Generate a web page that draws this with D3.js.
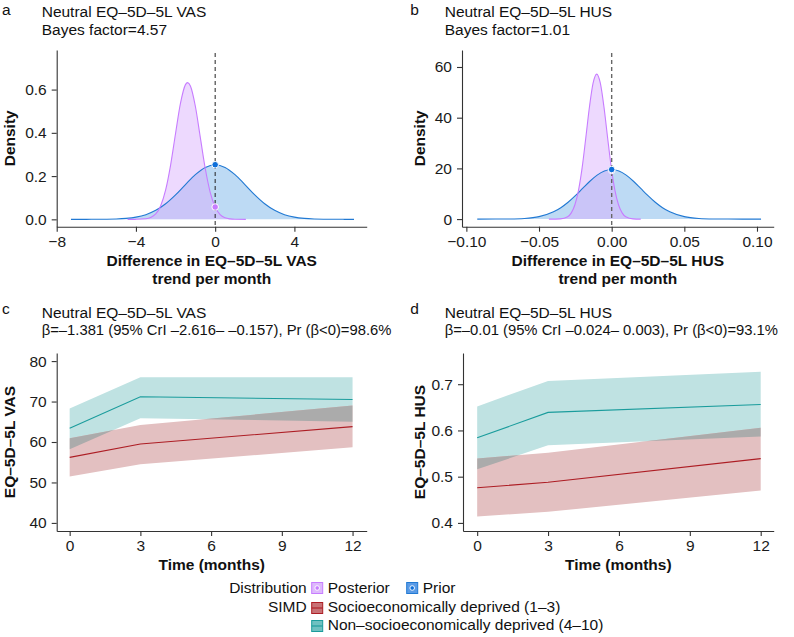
<!DOCTYPE html>
<html>
<head>
<meta charset="utf-8">
<script src="https://cdn.jsdelivr.net/npm/d3@7"></script>
<style>
  body { margin: 0; background: #fff; }
  svg text { font-family: "Liberation Sans", Arial, Helvetica, sans-serif; }
</style>
</head>
<body>
<svg id="chart" width="794" height="637"></svg>
<script>
// ---- data ----
// density curves: [difference, density]
var vasPrior = [[-7.28, 0], [-6.5, 0.0001], [-6.0, 0.0002], [-5.5, 0.0006], [-5.0, 0.0017], [-4.5, 0.0044],
    [-4.0, 0.0102], [-3.5, 0.0217], [-3.0, 0.0416], [-2.5, 0.0722], [-2.0, 0.1133], [-1.5, 0.1609],
    [-1.0, 0.2067], [-0.5, 0.2402], [0, 0.2525], [0.5, 0.2402], [1.0, 0.2067], [1.5, 0.1609],
    [2.0, 0.1133], [2.5, 0.0722], [3.0, 0.0416], [3.5, 0.0217], [4.0, 0.0102], [4.5, 0.0044],
    [5.0, 0.0017], [5.5, 0.0006], [6.0, 0.0002], [6.5, 0.0001], [7.01, 0]];
var vasPosterior = [[-4.42, 0], [-4.0, 0.0001], [-3.5, 0.0024], [-3.0, 0.0249], [-2.75, 0.0629], [-2.5, 0.136],
    [-2.25, 0.251], [-2.0, 0.397], [-1.75, 0.537], [-1.5, 0.623], [-1.39, 0.632], [-1.25, 0.617],
    [-1.0, 0.523], [-0.75, 0.379], [-0.5, 0.235], [-0.25, 0.125], [0, 0.057], [0.25, 0.022],
    [0.5, 0.0073], [0.75, 0.0021], [1.0, 0.0005], [1.55, 0]];
var husPrior = [[-0.0925, 0], [-0.08, 0.009], [-0.07, 0.054], [-0.06, 0.26], [-0.05, 0.97], [-0.04, 2.86],
    [-0.035, 4.49], [-0.03, 6.63], [-0.025, 9.23], [-0.02, 12.09], [-0.015, 14.93], [-0.01, 17.35],
    [-0.005, 18.98], [0, 19.56], [0.005, 18.98], [0.01, 17.35], [0.015, 14.93], [0.02, 12.09],
    [0.025, 9.23], [0.03, 6.63], [0.035, 4.49], [0.04, 2.86], [0.05, 0.97], [0.06, 0.26],
    [0.07, 0.054], [0.08, 0.009], [0.09, 0.001], [0.1028, 0]];
var husPosterior = [[-0.0432, 0], [-0.0353, 0.092], [-0.0303, 0.93], [-0.0278, 2.45], [-0.0253, 5.65],
    [-0.0228, 11.46], [-0.0203, 20.4], [-0.0178, 32.1], [-0.0153, 44.2], [-0.0128, 53.6], [-0.0103, 57.2],
    [-0.0078, 53.6], [-0.0053, 44.2], [-0.0028, 32.1], [0, 19.2], [0.0022, 11.46], [0.0047, 5.65],
    [0.0072, 2.45], [0.0097, 0.93], [0.0147, 0.092], [0.02, 0]];
// density at zero (prior, posterior)
var vasZeroDensity = [0.2525, 0.057];
var husZeroDensity = [19.56, 19.2];

// trajectories over time
var months = [0, 3, 12];
var vasDeprivedMean = [56.2, 59.5, 63.8];
var vasDeprivedLo = [51.5, 54.5, 58.7];
var vasDeprivedHi = [60.9, 64.2, 69.0];
var vasNonDeprivedMean = [63.4, 71.2, 70.5];
var vasNonDeprivedLo = [58.2, 65.9, 65.0];
var vasNonDeprivedHi = [68.3, 76.0, 76.0];
var husDeprivedMean = [0.476, 0.488, 0.539];
var husDeprivedLo = [0.414, 0.424, 0.470];
var husDeprivedHi = [0.5395, 0.552, 0.606];
var husNonDeprivedMean = [0.584, 0.639, 0.656];
var husNonDeprivedLo = [0.516, 0.568, 0.587];
var husNonDeprivedHi = [0.652, 0.707, 0.727];

// ticks
var vasDiffTicks = [-8, -4, 0, 4];
var husDiffTicks = [-0.10, -0.05, 0, 0.05, 0.10];
var vasDensityTicks = [0, 0.2, 0.4, 0.6];
var husDensityTicks = [0, 20, 40, 60];
var monthTicks = [0, 3, 6, 9, 12];
var vasTicks = [40, 50, 60, 70, 80];
var husTicks = [0.4, 0.5, 0.6, 0.7];

var distLabels = ["Posterior", "Prior"];
var simdLabels = ["Socioeconomically deprived (1\u20133)", "Non\u2013socioeconomically deprived (4\u201310)"];

// ---- styling ----
var FONT = '"Liberation Sans", Arial, Helvetica, sans-serif';
var FS = 15.5;
var PRIOR_LINE = "#2179d3", PRIOR_FILL = "#BDDAF4", PRIOR_DOT = "#0e6fd9";
var POST_LINE = "#C77CFF", POST_FILL = "#D9AEFD", POST_DOT = "#C77CFF";
var RED = "#ad1d24", RED_FILL = "#e3c0c1";
var TEAL = "#1a9c9c", TEAL_FILL = "#bfe2e2";
var OVERLAP = "#ababab";

var svg = d3.select("#chart");

function styleAxis(g) {
    g.attr("font-family", FONT).attr("font-size", FS);
    g.select(".domain").attr("stroke", "#333").attr("stroke-width", 1.1);
    g.selectAll(".tick line").attr("stroke", "#333").attr("stroke-width", 1.1);
    g.selectAll(".tick text").attr("fill", "#1a1a1a");
}

function addText(x, y, str, opts) {
    opts = opts || {};
    var t = svg.append("text")
        .attr("x", x).attr("y", y)
        .attr("font-size", opts.size || FS)
        .attr("fill", "#111")
        .attr("text-anchor", opts.anchor || "start")
        .attr("font-weight", opts.bold ? "bold" : "normal")
        .text(str);
    if (opts.rotate) {
        t.attr("x", 0).attr("y", 0)
         .attr("transform", "translate(" + x + "," + y + ") rotate(-90)");
    }
    return t;
}

function drawAxes(x, y, p) {
    svg.append("g")
        .attr("transform", "translate(0," + p.bottom + ")")
        .call(d3.axisBottom(x).tickValues(p.xTicks).tickFormat(d3.format(p.xFormat))
            .tickSize(5).tickSizeOuter(0).tickPadding(4))
        .call(styleAxis);
    svg.append("g")
        .attr("transform", "translate(" + p.left + ",0)")
        .call(d3.axisLeft(y).tickValues(p.yTicks).tickFormat(d3.format(p.yFormat))
            .tickSize(5).tickSizeOuter(0).tickPadding(5))
        .call(styleAxis);
}

function drawDensity(p) {
    var x = d3.scaleLinear().domain(p.xDomain).range([p.left, p.right]),
        y = d3.scaleLinear().domain(p.yDomain).range([p.bottom, p.top]);

    var area = d3.area()
        .curve(d3.curveMonotoneX)
        .x(function (d) { return x(d[0]); })
        .y0(y(0))
        .y1(function (d) { return y(d[1]); });
    var line = area.lineY1();

    svg.append("path").datum(p.prior).attr("d", area).attr("fill", PRIOR_FILL);
    svg.append("path").datum(p.posterior).attr("d", area)
        .attr("fill", POST_FILL).attr("fill-opacity", 0.47);
    svg.append("path").datum(p.prior).attr("d", line)
        .attr("fill", "none").attr("stroke", PRIOR_LINE).attr("stroke-width", 1.1);
    svg.append("path").datum(p.posterior).attr("d", line)
        .attr("fill", "none").attr("stroke", POST_LINE).attr("stroke-width", 1.1);

    svg.append("line")
        .attr("x1", x(0)).attr("x2", x(0))
        .attr("y1", p.top + 3).attr("y2", p.bottom)
        .attr("stroke", p.dashColor).attr("stroke-width", p.dashWidth)
        .attr("stroke-dasharray", "4,3");

    // posterior dot first, prior on top
    [[p.zero[1], POST_DOT], [p.zero[0], PRIOR_DOT]].forEach(function (d) {
        svg.append("circle")
            .attr("cx", x(0)).attr("cy", y(d[0])).attr("r", 3.3)
            .attr("fill", d[1]).attr("stroke", "#fff").attr("stroke-width", 1);
    });

    drawAxes(x, y, p);
}

function drawTrend(p) {
    var x = d3.scaleLinear().domain(p.xDomain).range([p.left, p.right]),
        y = d3.scaleLinear().domain(p.yDomain).range([p.bottom, p.top]);

    function rows(mean, lo, hi) {
        return months.map(function (m, i) {
            return { m: m, mean: mean[i], lo: lo[i], hi: hi[i] };
        });
    }
    var dep = rows(p.depMean, p.depLo, p.depHi),
        non = rows(p.nonMean, p.nonLo, p.nonHi);

    var band = d3.area()
        .x(function (d) { return x(d.m); })
        .y0(function (d) { return y(d.lo); })
        .y1(function (d) { return y(d.hi); });
    var line = d3.line()
        .x(function (d) { return x(d.m); })
        .y(function (d) { return y(d.mean); });

    svg.append("clipPath").attr("id", p.id)
        .append("path").attr("d", band(non));

    svg.append("path").attr("d", band(non)).attr("fill", TEAL_FILL);
    svg.append("path").attr("d", band(dep)).attr("fill", RED_FILL);
    svg.append("path").attr("d", band(dep)).attr("fill", OVERLAP)
        .attr("clip-path", "url(#" + p.id + ")");
    svg.append("path").attr("d", line(non))
        .attr("fill", "none").attr("stroke", TEAL).attr("stroke-width", 1.1);
    svg.append("path").attr("d", line(dep))
        .attr("fill", "none").attr("stroke", RED).attr("stroke-width", 1.1);

    drawAxes(x, y, p);
}

// ---- panel a ----
drawDensity({
    left: 56.7, right: 366.7, top: 50, bottom: 226.7,
    xDomain: [-8, 7.65], yDomain: [-0.034, 0.783],
    prior: vasPrior, posterior: vasPosterior, zero: vasZeroDensity,
    xTicks: vasDiffTicks, yTicks: vasDensityTicks, xFormat: "d", yFormat: ".1f",
    dashColor: "#222", dashWidth: 1
});
addText(2, 15, "a");
addText(41.7, 16.5, "Neutral EQ\u20135D\u20135L VAS");
addText(41.7, 34.5, "Bayes factor=4.57");
addText(211.7, 265.5, "Difference in EQ\u20135D\u20135L VAS", { anchor: "middle", bold: true });
addText(211.7, 283.5, "trend per month", { anchor: "middle", bold: true });
addText(15, 138.3, "Density", { anchor: "middle", bold: true, rotate: true });

// ---- panel b ----
drawDensity({
    left: 462, right: 773.7, top: 50, bottom: 226.7,
    xDomain: [-0.103, 0.1115], yDomain: [-3, 66.7],
    prior: husPrior, posterior: husPosterior, zero: husZeroDensity,
    xTicks: husDiffTicks, yTicks: husDensityTicks, xFormat: ".2f", yFormat: "d",
    dashColor: "#666", dashWidth: 1.4
});
addText(410.3, 15, "b");
addText(444.7, 16.5, "Neutral EQ\u20135D\u20135L HUS");
addText(444.7, 34.5, "Bayes factor=1.01");
addText(617.8, 265.5, "Difference in EQ\u20135D\u20135L HUS", { anchor: "middle", bold: true });
addText(617.8, 283.5, "trend per month", { anchor: "middle", bold: true });
addText(425, 138.3, "Density", { anchor: "middle", bold: true, rotate: true });

// ---- panel c ----
drawTrend({
    id: "clipVas",
    left: 56.7, right: 366.7, top: 353, bottom: 531,
    xDomain: [-0.55, 12.6], yDomain: [38, 82],
    depMean: vasDeprivedMean, depLo: vasDeprivedLo, depHi: vasDeprivedHi,
    nonMean: vasNonDeprivedMean, nonLo: vasNonDeprivedLo, nonHi: vasNonDeprivedHi,
    xTicks: monthTicks, yTicks: vasTicks, xFormat: "d", yFormat: "d"
});
addText(2, 313.5, "c");
addText(41.7, 318, "Neutral EQ\u20135D\u20135L VAS");
addText(41.7, 335, "\u03b2=\u20131.381 (95% CrI \u20132.616\u2013 \u20130.157), Pr (\u03b2<0)=98.6%", { size: 14.8 });
addText(211.7, 569.5, "Time (months)", { anchor: "middle", bold: true });
addText(15, 442, "EQ\u20135D\u20135L VAS", { anchor: "middle", bold: true, rotate: true });

// ---- panel d ----
drawTrend({
    id: "clipHus",
    left: 463, right: 773.7, top: 353, bottom: 531,
    xDomain: [-0.6, 12.55], yDomain: [0.3825, 0.7675],
    depMean: husDeprivedMean, depLo: husDeprivedLo, depHi: husDeprivedHi,
    nonMean: husNonDeprivedMean, nonLo: husNonDeprivedLo, nonHi: husNonDeprivedHi,
    xTicks: monthTicks, yTicks: husTicks, xFormat: "d", yFormat: ".1f"
});
addText(410.3, 313.5, "d");
addText(444.7, 318, "Neutral EQ\u20135D\u20135L HUS");
addText(444.7, 335, "\u03b2=\u20130.01 (95% CrI \u20130.024\u2013 0.003), Pr (\u03b2<0)=93.1%", { size: 14.8 });
addText(618.3, 569.5, "Time (months)", { anchor: "middle", bold: true });
addText(425, 442, "EQ\u20135D\u20135L HUS", { anchor: "middle", bold: true, rotate: true });

// ---- legend ----
var keyX = 311.7, keySize = 11;
addText(306.7, 593, "Distribution", { anchor: "end" });
var distKeys = [
    { x: keyX, fill: "#ddb9fc", stroke: POST_LINE, dot: POST_DOT },
    { x: 406.7, fill: "#5a9be6", stroke: PRIOR_LINE, dot: PRIOR_DOT }
];
distKeys.forEach(function (k, i) {
    svg.append("rect").attr("x", k.x).attr("y", 582.5).attr("width", keySize).attr("height", keySize)
        .attr("fill", k.fill).attr("stroke", k.stroke).attr("stroke-width", 1);
    svg.append("circle").attr("cx", k.x + keySize / 2).attr("cy", 582.5 + keySize / 2).attr("r", 2.3)
        .attr("fill", k.dot).attr("stroke", "#fff").attr("stroke-width", 0.9);
    addText(k.x + 16, 593, distLabels[i]);
});

addText(306.7, 611.7, "SIMD", { anchor: "end" });
var simdKeys = [
    { y: 602.5, fill: "#c87276", stroke: RED },
    { y: 620.5, fill: "#6fc1c1", stroke: TEAL }
];
simdKeys.forEach(function (k, i) {
    svg.append("rect").attr("x", keyX).attr("y", k.y).attr("width", keySize).attr("height", keySize)
        .attr("fill", k.fill).attr("stroke", k.stroke).attr("stroke-width", 1);
    svg.append("line").attr("x1", keyX).attr("x2", keyX + keySize)
        .attr("y1", k.y + keySize / 2).attr("y2", k.y + keySize / 2)
        .attr("stroke", k.stroke).attr("stroke-width", 1.1);
    addText(keyX + 16, k.y + 9.3, simdLabels[i]);
});
</script>
</body>
</html>
